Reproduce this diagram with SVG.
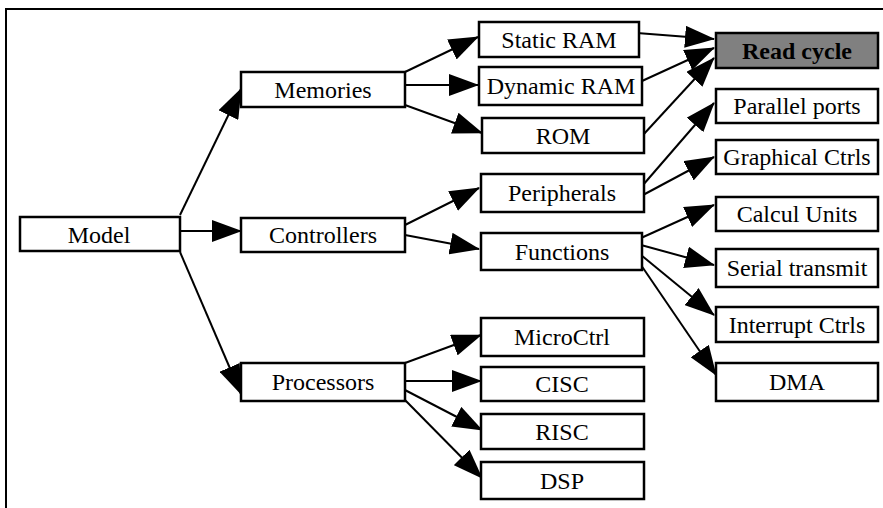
<svg xmlns="http://www.w3.org/2000/svg" width="883" height="508" viewBox="0 0 883 508">
<style>
.box{fill:#fff;stroke:#000;stroke-width:2.5}
.hl{fill:#808080;stroke:#000;stroke-width:2.5}
text{font-family:'Liberation Serif','Times New Roman',Times,serif;font-size:24px;text-anchor:middle;fill:#000}
.bold{font-weight:bold}
.edge{fill:none;stroke:#000;stroke-width:2;marker-end:url(#ah)}
</style>
<defs>
<marker id="ah" markerUnits="userSpaceOnUse" markerWidth="30" markerHeight="22" refX="29" refY="11" orient="auto">
<path d="M0,0 L30,11 L0,22 z" fill="#000"/>
</marker>
</defs>
<rect width="883" height="508" fill="#fff"/>
<path d="M6,508 V9 H883" fill="none" stroke="#000" stroke-width="2"/>
<g id="connectors">
<path class="edge" d="M180,215 L241,89"/>
<path class="edge" d="M180,231 L241,231"/>
<path class="edge" d="M180,252 L241,394"/>
<path class="edge" d="M405,72 L478,37"/>
<path class="edge" d="M405,85 L478,85"/>
<path class="edge" d="M405,105 L482,133"/>
<path class="edge" d="M637,33 L714,39"/>
<path class="edge" d="M642,81 L714,48"/>
<path class="edge" d="M643,135 L714,58"/>
<path class="edge" d="M643,185 L714,103"/>
<path class="edge" d="M643,195 L714,157"/>
<path class="edge" d="M405,225 L479,188"/>
<path class="edge" d="M405,235 L479,249"/>
<path class="edge" d="M641,238 L714,205"/>
<path class="edge" d="M641,245 L714,265"/>
<path class="edge" d="M641,255 L714,315"/>
<path class="edge" d="M641,265 L716,375"/>
<path class="edge" d="M405,363 L481,335"/>
<path class="edge" d="M405,381 L481,381"/>
<path class="edge" d="M403,389 L482,430"/>
<path class="edge" d="M405,400 L482,478"/>
</g>
<g font-family="Liberation Serif, Times New Roman, serif" font-size="24">
<g id="model"><rect class="box" x="20" y="217" width="160" height="34"/><text x="99" y="243">Model</text></g>
<g id="memories"><rect class="box" x="241" y="72" width="164" height="35"/><text x="323" y="98">Memories</text></g>
<g id="controllers"><rect class="box" x="241" y="218" width="164" height="34"/><text x="323" y="243">Controllers</text></g>
<g id="processors"><rect class="box" x="241" y="363" width="164" height="38"/><text x="323" y="390">Processors</text></g>
<g id="static-ram"><rect class="box" x="479" y="22" width="160" height="35"/><text x="559" y="48">Static RAM</text></g>
<g id="dynamic-ram"><rect class="box" x="479" y="67" width="163" height="38"/><text x="561" y="94">Dynamic RAM</text></g>
<g id="rom"><rect class="box" x="482" y="118" width="162" height="35"/><text x="563" y="144">ROM</text></g>
<g id="peripherals"><rect class="box" x="481" y="174" width="163" height="38"/><text x="562" y="201">Peripherals</text></g>
<g id="functions"><rect class="box" x="481" y="233" width="161" height="37"/><text x="562" y="260">Functions</text></g>
<g id="microctrl"><rect class="box" x="481" y="318" width="163" height="38"/><text x="562" y="345">MicroCtrl</text></g>
<g id="cisc"><rect class="box" x="481" y="367" width="163" height="34"/><text x="562" y="392">CISC</text></g>
<g id="risc"><rect class="box" x="481" y="414" width="163" height="35"/><text x="562" y="440">RISC</text></g>
<g id="dsp"><rect class="box" x="481" y="462" width="163" height="37"/><text x="562" y="489">DSP</text></g>
<g id="read-cycle"><rect class="hl" x="716" y="33" width="162" height="35"/><text class="bold" x="797" y="59">Read cycle</text></g>
<g id="parallel-ports"><rect class="box" x="716" y="89" width="162" height="34"/><text x="797" y="114">Parallel ports</text></g>
<g id="graphical-ctrls"><rect class="box" x="716" y="140" width="162" height="34"/><text x="797" y="165">Graphical Ctrls</text></g>
<g id="calcul-units"><rect class="box" x="716" y="197" width="162" height="34"/><text x="797" y="222">Calcul Units</text></g>
<g id="serial-transmit"><rect class="box" x="716" y="249" width="162" height="38"/><text x="797" y="276">Serial transmit</text></g>
<g id="interrupt-ctrls"><rect class="box" x="716" y="307" width="162" height="35"/><text x="797" y="333">Interrupt Ctrls</text></g>
<g id="dma"><rect class="box" x="716" y="363" width="162" height="38"/><text x="797" y="390">DMA</text></g>
</g>
</svg>
